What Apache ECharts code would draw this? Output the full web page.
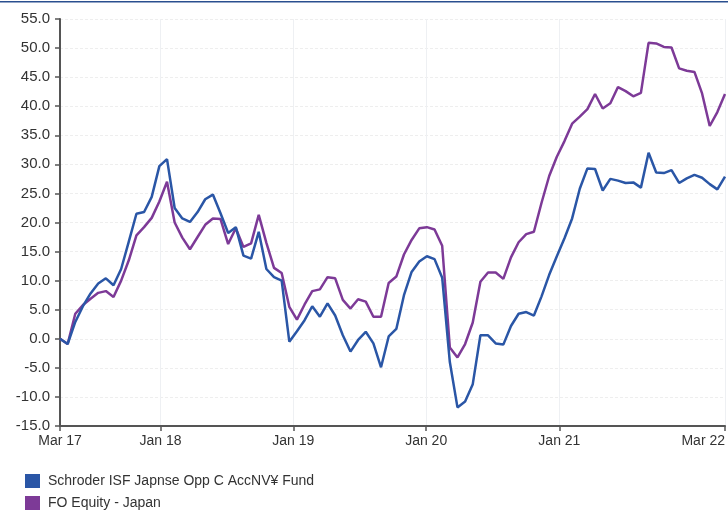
<!DOCTYPE html>
<html><head><meta charset="utf-8">
<script src="https://cdn.jsdelivr.net/npm/echarts@6/dist/echarts.min.js"></script>
<style>html,body{margin:0;padding:0;background:#fff}#c{width:728px;height:510px}</style>
</head><body><div id="c"></div>
<script>
// Data: one point every 21 days starting 31 Mar 2017
const startDate = [2017, 2, 31];
const stepDays = 21;
const fundName = 'Schroder ISF Japnse Opp C AccNV\u00a5 Fund';
const sectorName = 'FO Equity - Japan';
const fundValues = [0, -0.9, 2.9, 5.6, 7.8, 9.5, 10.4, 9.2, 12.0, 16.7,
  21.5, 21.8, 24.4, 29.7, 30.9, 22.5, 20.7, 20.1, 21.8, 24.0,
  24.8, 21.6, 18.2, 19.2, 14.3, 13.8, 18.4, 12.0, 10.6, 10.0,
  -0.5, 1.3, 3.2, 5.6, 3.8, 6.1, 4.0, 0.6, -2.2, -0.2,
  1.2, -0.8, -4.9, 0.4, 1.7, 7.5, 11.5, 13.3, 14.2, 13.7,
  10.5, -4.0, -11.8, -10.8, -7.8, 0.6, 0.6, -0.8, -1.0, 2.2,
  4.3, 4.6, 4.0, 7.3, 11.0, 14.2, 17.3, 20.7, 25.8, 29.3,
  29.2, 25.5, 27.5, 27.2, 26.8, 26.9, 26.0, 32.0, 28.6, 28.5,
  29.0, 26.8, 27.6, 28.2, 27.7, 26.6, 25.7, 27.9];
const sectorValues = [0, -0.9, 4.3, 5.8, 6.9, 7.9, 8.2, 7.2, 10.0, 13.5,
  17.8, 19.2, 20.8, 23.6, 27.0, 20.0, 17.4, 15.4, 17.5, 19.6,
  20.7, 20.6, 16.3, 19.0, 15.8, 16.4, 21.3, 16.5, 12.2, 11.3,
  5.5, 3.3, 5.9, 8.2, 8.5, 10.6, 10.4, 6.7, 5.2, 6.8,
  6.4, 3.8, 3.8, 9.6, 10.7, 14.5, 17.0, 19.0, 19.2, 18.8,
  16.0, -1.5, -3.2, -0.9, 2.8, 9.8, 11.4, 11.4, 10.3, 14.0,
  16.6, 18.0, 18.4, 23.4, 28.0, 31.3, 34.0, 37.0, 38.2, 39.5,
  42.1, 39.6, 40.5, 43.3, 42.6, 41.7, 42.3, 50.9, 50.8, 50.2,
  50.1, 46.5, 46.1, 45.9, 42.2, 36.6, 39.0, 42.1];
const tickLabels = ['Mar 17', 'Jan 18', 'Jan 19', 'Jan 20', 'Jan 21', 'Mar 22'];
const tickDates = [null, [2018, 0, 1], [2019, 0, 1], [2020, 0, 1], [2021, 0, 1], null];

const DAY = 86400000;
const t0 = new Date(startDate[0], startDate[1], startDate[2]).getTime();
const times = fundValues.map((_, i) => t0 + i * stepDays * DAY);
const tEnd = times[times.length - 1];
const tickValues = tickDates.map((d, i) => d ? new Date(d[0], d[1], d[2]).getTime() : (i === 0 ? t0 : tEnd));

const chart = echarts.init(document.getElementById('c'), null, {renderer: 'canvas'});
const font = '"Liberation Sans", Arial, sans-serif';
const legendBase = {
  orient: 'vertical', left: 25, itemWidth: 15, itemHeight: 14,
  icon: 'rect', selectedMode: false, padding: 0,
  textStyle: {fontFamily: font, fontSize: 14, color: '#333', padding: [0, 0, 0, 3]}
};
chart.setOption({
  animation: false,
  backgroundColor: '#fff',
  grid: {left: 60, right: 1, top: 19, bottom: 84, containLabel: false},
  graphic: [{type: 'rect', left: 0, top: 1, shape: {width: 728, height: 1.5}, style: {fill: '#2a4f8f'}}],
  legend: [
    Object.assign({}, legendBase, {top: 474, data: [fundName]}),
    Object.assign({}, legendBase, {top: 496, data: [sectorName]})
  ],
  xAxis: {
    type: 'value', min: t0, max: tEnd,
    axisLine: {onZero: false, lineStyle: {color: '#555', width: 2}},
    axisTick: {show: true, customValues: tickValues, length: 5, lineStyle: {color: '#555', width: 1.5}},
    axisLabel: {
      customValues: tickValues, color: '#333', fontFamily: font, fontSize: 14, margin: 8,
      alignMinLabel: 'center', alignMaxLabel: 'right',
      formatter: v => { const k = tickValues.indexOf(v); return k >= 0 ? tickLabels[k] : ''; }
    },
    splitLine: {show: true, lineStyle: {color: '#eef0f3', width: 1}}
  },
  yAxis: {
    type: 'value', min: -15, max: 55, interval: 5,
    axisLine: {show: true, onZero: false, lineStyle: {color: '#555', width: 2}},
    axisTick: {show: true, length: 5, lineStyle: {color: '#555', width: 1.5}},
    axisLabel: {color: '#333', fontFamily: font, fontSize: 15, margin: 10, formatter: v => v.toFixed(1)},
    splitLine: {show: true, lineStyle: {color: '#eeeeee', width: 1, type: [3, 2]}}
  },
  series: [
    {name: fundName, type: 'line', data: times.map((t, i) => [t, fundValues[i]]),
     showSymbol: false, lineStyle: {color: '#2a56a6', width: 2.5}, itemStyle: {color: '#2a56a6'}, z: 3},
    {name: sectorName, type: 'line', data: times.map((t, i) => [t, sectorValues[i]]),
     showSymbol: false, lineStyle: {color: '#7d3a97', width: 2.5}, itemStyle: {color: '#7d3a97'}, z: 2}
  ]
});
</script></body></html>
